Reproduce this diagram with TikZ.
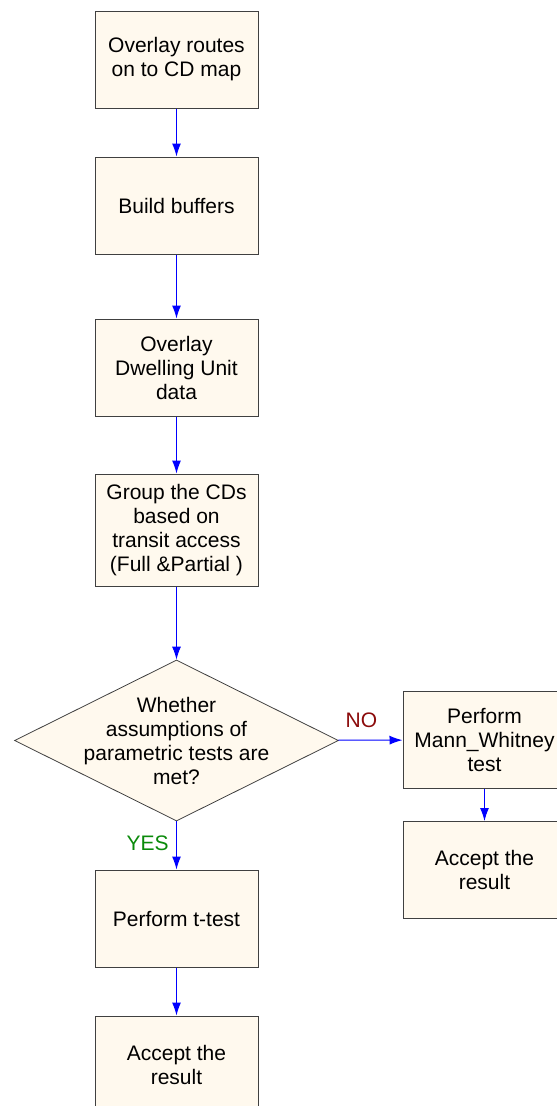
\documentclass[tikz,border=0pt]{standalone}
\usepackage{fontspec}
\setmainfont{Liberation Sans}
\usetikzlibrary{arrows.meta,shapes.geometric}
\definecolor{boxfill}{HTML}{FFF9EE}
\definecolor{noclr}{HTML}{8B0A0A}
\definecolor{yesclr}{HTML}{0A8A0A}
\begin{document}
\begin{tikzpicture}[
				x=1pt, y=-1pt,
				every node/.style={font=\fontsize{21}{24}\selectfont},
				process/.style={draw=black!75, line width=1pt, fill=boxfill, align=center,
					minimum width=163pt, minimum height=97pt, inner sep=0pt},
				decision/.style={diamond, draw=black!75, line width=0.8pt, fill=boxfill, align=center,
					minimum width=324pt, minimum height=161pt, inner sep=-40pt},
				flow/.style={blue, line width=1pt, -{Latex[length=13pt,width=9pt]}}
			]
			\useasboundingbox (0,0) rectangle (557,1106);

			% Main column
			\node[process] (overlay) at (176.5,59.5) {Overlay routes\\on to CD map};
			\node[process] (buffers) at (176.5,205.5) {Build buffers};
			\node[process] (dwelling) at (176.5,367.5) {Overlay\\Dwelling Unit\\data};
			\node[process, minimum height=112pt] (group) at (176.5,530) {Group the CDs\\based on\\transit access\\(Full \&Partial )};
			\node[decision] (check) at (176.5,740.5) {Whether\\assumptions of\\parametric tests are\\met?};
			\node[process] (ttest) at (176.5,918.5) {Perform t-test};
			\node[process] (acceptl) at (176.5,1064.5) {Accept the\\result};

			% Right branch
			\node[process] (mann) at (484.5,740) {Perform\\Mann\_Whitney\\test};
			\node[process] (acceptr) at (484.5,870) {Accept the\\result};

			% Connectors
			\draw[flow] (overlay) -- (buffers);
			\draw[flow] (buffers) -- (dwelling);
			\draw[flow] (dwelling) -- (group);
			\draw[flow] (group) -- (check);
			\draw[flow] (check) -- node[pos=0.45, left=4pt, text=yesclr] (yes) {YES} (ttest);
			\draw[flow] (ttest) -- (acceptl);
			\draw[flow] (check) -- node[pos=0.36, above=9pt, text=noclr] (no) {NO} (mann);
			\draw[flow] (mann) -- (acceptr);

		\end{tikzpicture}
\end{document}
